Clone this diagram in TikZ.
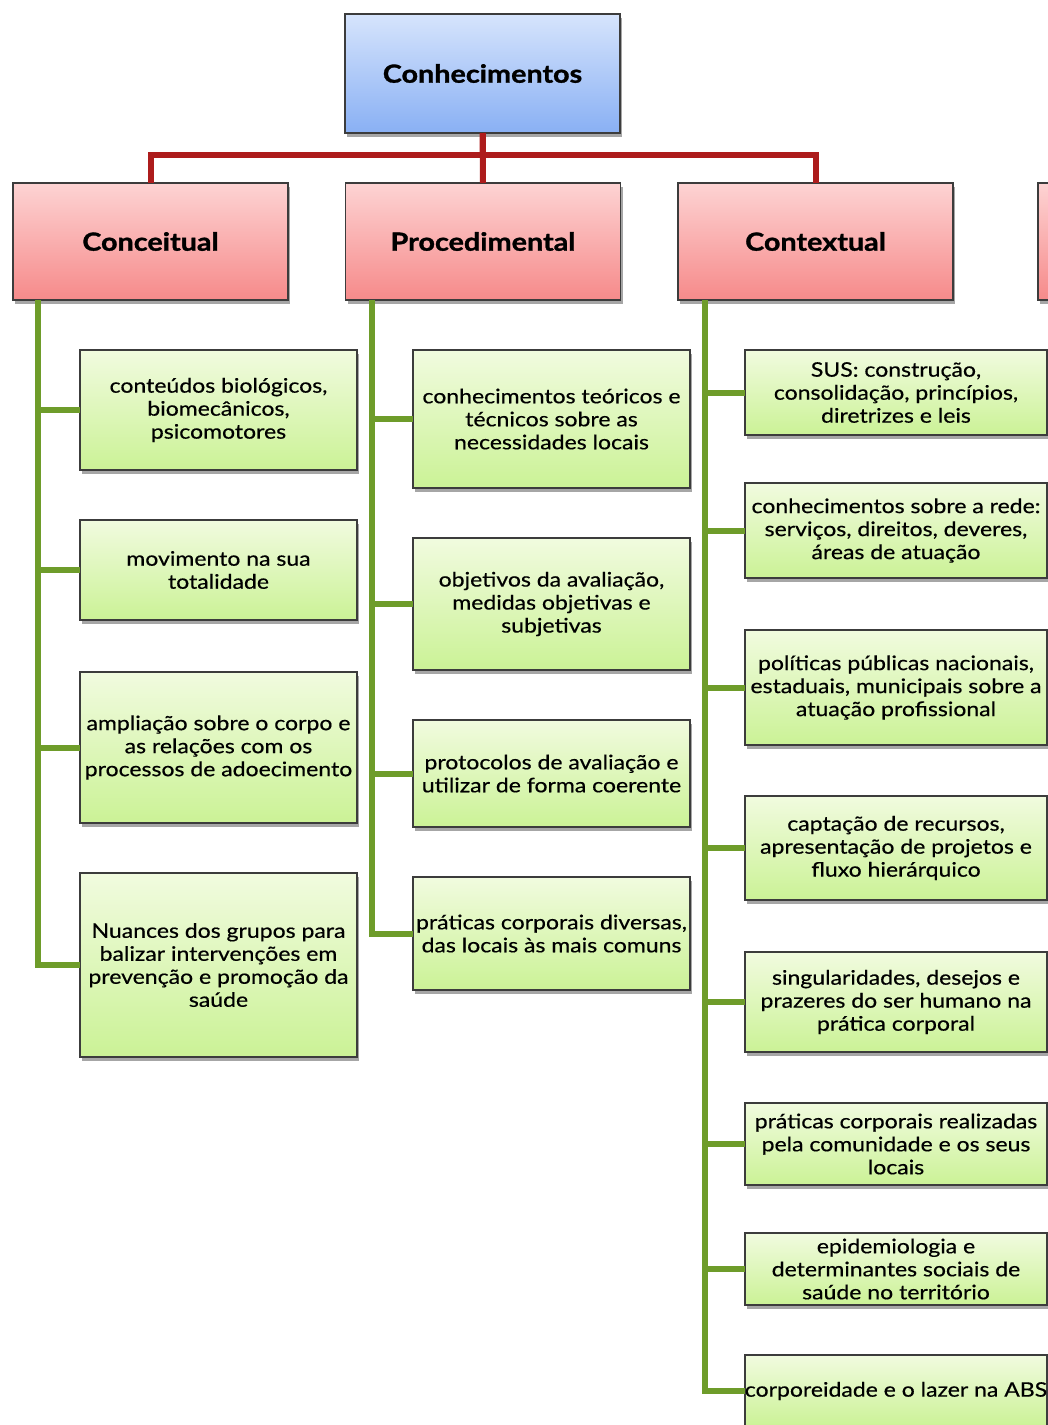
\documentclass[tikz,border=0pt]{standalone}
\usepackage{fontspec}
\setmainfont{Lato}[FakeStretch=1.15, UprightFeatures={FakeBold=0.5}, BoldFeatures={FakeStretch=1.15, FakeBold=1.2}]
\usetikzlibrary{shadows}
\definecolor{bordc}{HTML}{3C3C3C}
\definecolor{bluetop}{HTML}{D6E4FC}
\definecolor{bluebot}{HTML}{89B0F4}
\definecolor{redtop}{HTML}{FDD3D3}
\definecolor{redbot}{HTML}{F68A8A}
\definecolor{greentop}{HTML}{F1FBDF}
\definecolor{greenbot}{HTML}{CBF296}
\definecolor{redline}{HTML}{AD1C1C}
\definecolor{greenline}{HTML}{6E9C2A}
\begin{document}
\begin{tikzpicture}[x=1pt,y=1pt,
  boxbase/.style={rectangle, draw=bordc, line width=1.5pt, inner sep=0pt, outer sep=0pt,
    align=center, drop shadow={shadow xshift=2pt, shadow yshift=-4pt, fill=black, opacity=.35}},
  rootbox/.style={boxbase, top color=bluetop, bottom color=bluebot,
    minimum width=275, minimum height=119, font=\fontsize{25}{30}\selectfont\bfseries},
  headbox/.style={boxbase, top color=redtop, bottom color=redbot,
    minimum width=275, minimum height=117, font=\fontsize{25}{30}\selectfont\bfseries},
  kidbox/.style={boxbase, top color=greentop, bottom color=greenbot,
    font=\fontsize{20}{23}\selectfont},
  rline/.style={draw=redline, line width=6pt},
  gline/.style={draw=greenline, line width=6pt},
]
\clip (0,0) rectangle (1048,-1425);
\fill[white] (0,0) rectangle (1048,-1425);

% root and headers
\node[rootbox] (root) at (482.5,-73.5) {Conhecimentos};
\node[headbox] (conc) at (150.5,-241.5) {Conceitual};
\node[headbox] (proc) at (483,-241.5) {Procedimental};
\node[headbox] (ctx) at (815.5,-241.5) {Contextual};
\node[headbox] (fourth) at (1175.5,-241.5) {};

% red connectors
\draw[rline] (root.south) -- ++(0,-22pt) -| (conc.north);
\draw[rline] (root.south) -- ++(0,-22pt) -| (ctx.north);
\draw[rline] (root.south) -- (proc.north);

% Conceitual children
\node[kidbox, minimum width=277, minimum height=120] (c1) at (218.5,-410)
  {conteúdos biológicos,\\biomecânicos,\\psicomotores};
\node[kidbox, minimum width=277, minimum height=100] (c2) at (218.5,-570)
  {movimento na sua\\totalidade};
\node[kidbox, minimum width=277, minimum height=151] (c3) at (218.5,-747.5)
  {ampliação sobre o corpo e\\as relações com os\\processos de adoecimento};
\node[kidbox, minimum width=277, minimum height=184] (c4) at (218.5,-965)
  {Nuances dos grupos para\\balizar intervenções em\\prevenção e promoção da\\saúde};

% Procedimental children
\node[kidbox, minimum width=277, minimum height=138] (p1) at (551.5,-419)
  {conhecimentos teóricos e\\técnicos sobre as\\necessidades locais};
\node[kidbox, minimum width=277, minimum height=132] (p2) at (551.5,-604)
  {objetivos da avaliação,\\medidas objetivas e\\subjetivas};
\node[kidbox, minimum width=277, minimum height=107] (p3) at (551.5,-773.5)
  {protocolos de avaliação e\\utilizar de forma coerente};
\node[kidbox, minimum width=277, minimum height=113] (p4) at (551.5,-933.5)
  {práticas corporais diversas,\\das locais às mais comuns};

% Contextual children
\node[kidbox, minimum width=302, minimum height=85] (k1) at (896,-392.5)
  {SUS: construção,\\consolidação, princípios,\\diretrizes e leis};
\node[kidbox, minimum width=302, minimum height=95] (k2) at (896,-530.5)
  {conhecimentos sobre a rede:\\serviços, direitos, deveres,\\áreas de atuação};
\node[kidbox, minimum width=302, minimum height=115] (k3) at (896,-687.5)
  {políticas públicas nacionais,\\estaduais, municipais sobre a\\atuação profissional};
\node[kidbox, minimum width=302, minimum height=104] (k4) at (896,-848)
  {captação de recursos,\\apresentação de projetos e\\fluxo hierárquico};
\node[kidbox, minimum width=302, minimum height=100] (k5) at (896,-1002)
  {singularidades, desejos e\\prazeres do ser humano na\\prática corporal};
\node[kidbox, minimum width=302, minimum height=82] (k6) at (896,-1144)
  {práticas corporais realizadas\\pela comunidade e os seus\\locais};
\node[kidbox, minimum width=302, minimum height=72] (k7) at (896,-1269)
  {epidemiologia e\\determinantes sociais de\\saúde no território};
\node[kidbox, minimum width=302, minimum height=72] (k8) at (896,-1391)
  {corporeidade e o lazer na ABS};

% green connectors
\foreach \k in {c1,c2,c3,c4}
  \draw[gline] ([xshift=25pt]conc.south west) |- (\k.west);
\foreach \k in {p1,p2,p3,p4}
  \draw[gline] ([xshift=26pt]proc.south west) |- (\k.west);
\foreach \k in {k1,k2,k3,k4,k5,k6,k7,k8}
  \draw[gline] ([xshift=27pt]ctx.south west) |- (\k.west);
\end{tikzpicture}
\end{document}
